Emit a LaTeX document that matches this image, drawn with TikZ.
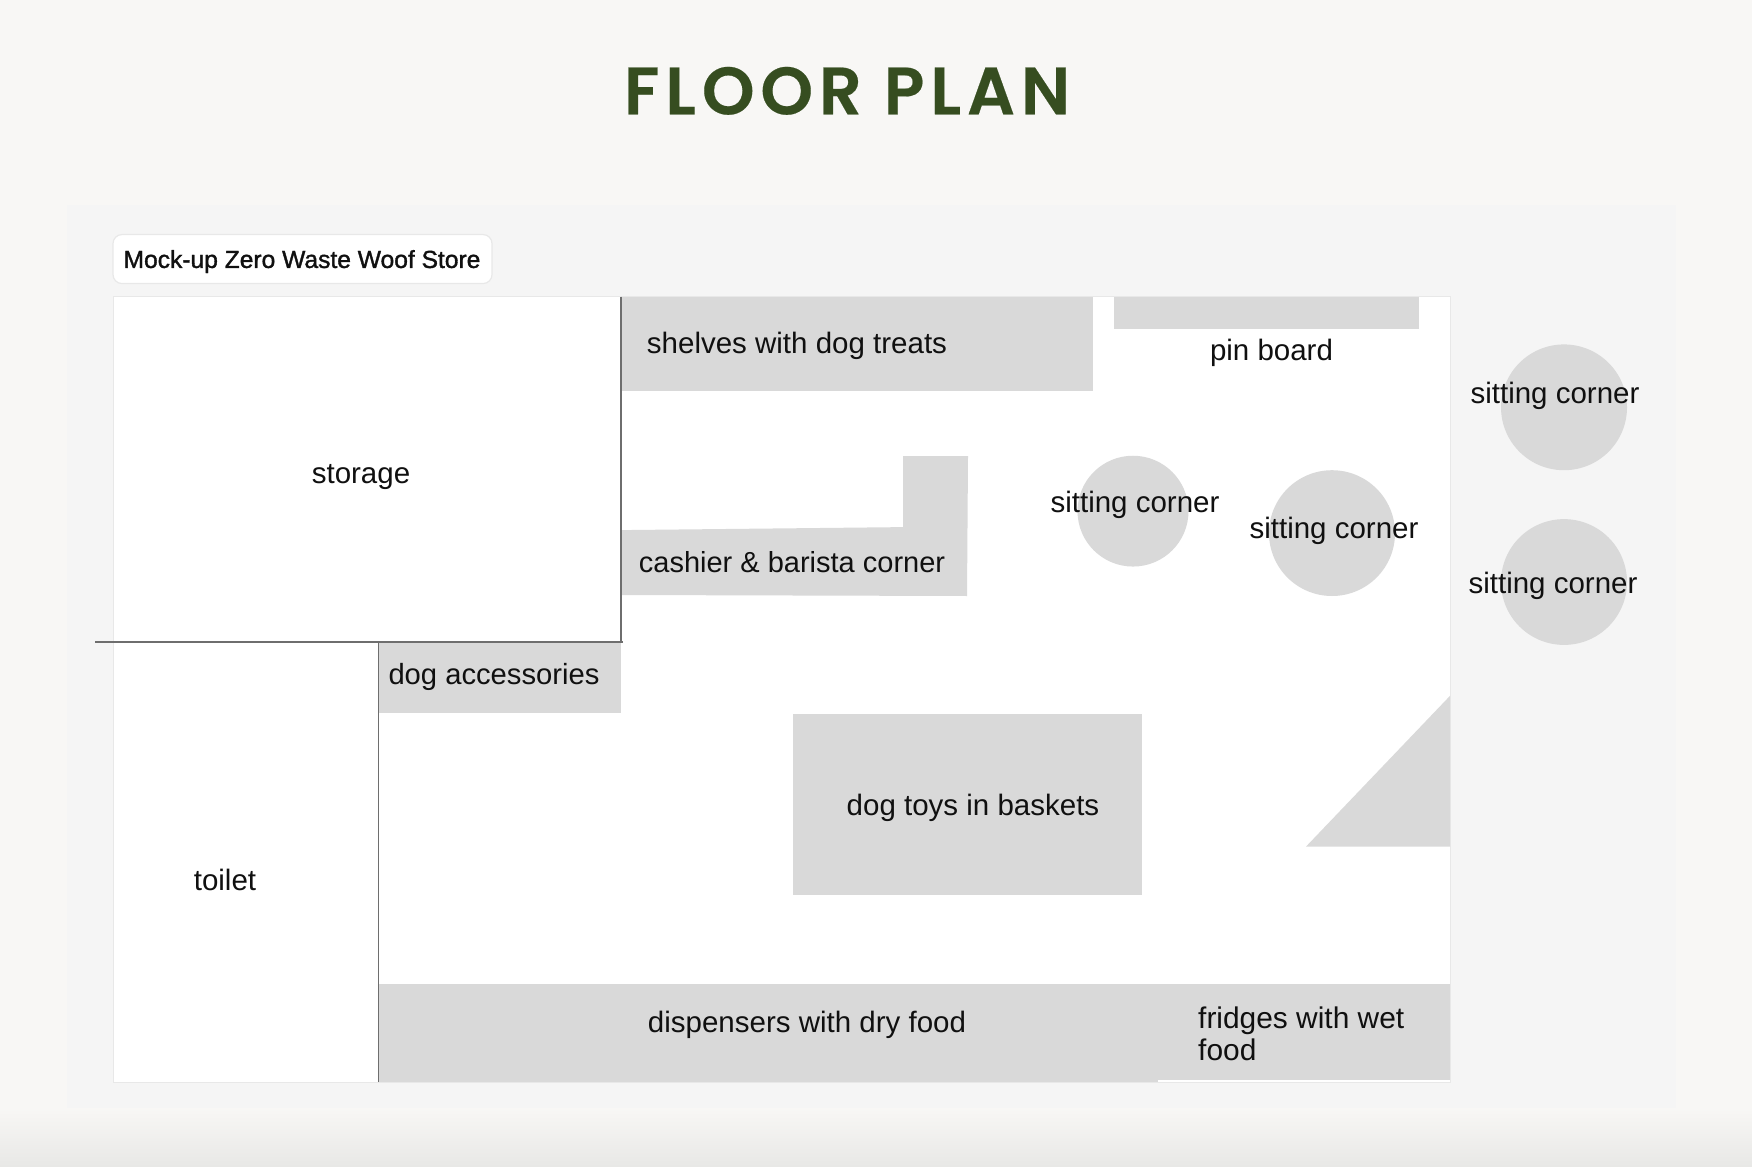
\documentclass[tikz,border=0pt]{standalone}
\usepackage{fontspec}
\setmainfont{Liberation Sans}
\newfontfamily\titlefont[LetterSpace=8.8,FakeBold=0.3]{Poppins SemiBold}
\newfontfamily\labelfont[FakeBold=1.4]{Liberation Sans}
\definecolor{pagebg}{HTML}{F8F7F5}
\definecolor{panelbg}{HTML}{F5F5F5}
\definecolor{shadebot}{HTML}{E8E8E6}
\definecolor{zone}{HTML}{D9D9D9}
\definecolor{wall}{HTML}{6E6E6E}
\definecolor{edgeline}{HTML}{E8E8E8}
\definecolor{titlegreen}{HTML}{364D20}
\definecolor{ink}{HTML}{101010}
\tikzset{
  zonefill/.style={fill=zone,draw=none},
  wallline/.style={draw=wall,line width=1.6pt},
  roomtext/.style={font=\fontsize{29.5}{32}\selectfont,text=ink,inner sep=0pt,align=left},
}
\begin{document}
\begin{tikzpicture}[x=1pt,y=-0.9983pt]
\useasboundingbox (0,0) rectangle (1752,1168);
\fill[pagebg] (0,0) rectangle (1752,1168);
\fill[panelbg] (67,205) rectangle (1676,1110);
\shade[top color=pagebg,bottom color=shadebot] (0,1110) rectangle (1752,1168);
\fill[white,draw=edgeline,line width=1pt] (113,297) rectangle (1450,1084);
\node[draw=edgeline,line width=1.2pt,fill=white,rounded corners=9pt,minimum width=379pt,minimum height=49pt,inner sep=0pt] (lab) at (302.5,259.5) {};
\node[font=\labelfont\fontsize{24.6}{28}\selectfont,text=ink,inner sep=0pt] (labtext) at (302,262) {Mock-up Zero Waste Woof Store};
\node[font=\titlefont\fontsize{67}{70}\selectfont,text=titlegreen,inner sep=0pt] (title) at (847,91) {FLOOR PLAN};
% zones
\fill[zonefill] (621,297) rectangle (1093,392);
\fill[zonefill] (1114,297) rectangle (1419,330);
\fill[zonefill] (621,531) -- (903,528) -- (903,457) -- (968,457) -- (967,597) -- (621,596) -- cycle;
\fill[zonefill] (378,643) rectangle (621,714);
\fill[zonefill] (793,715) rectangle (1142,896);
\fill[zonefill] (1450,697) -- (1450,848) -- (1306,848) -- cycle;
\fill[zonefill] (378,985.5) rectangle (1158,1084);
\fill[zonefill] (1158,985.5) rectangle (1450,1082);
\fill[zonefill] (1133,512) circle[radius=55.5];
\fill[zonefill] (1332,534) circle[radius=63];
\fill[zonefill] (1564,408) circle[radius=63];
\fill[zonefill] (1564,583) circle[radius=63];
% walls
\coordinate (wa) at (621,297); \coordinate (wb) at (621,643);
\coordinate (wc) at (95,643); \coordinate (wd) at (623,643);
\coordinate (we) at (378.5,643); \coordinate (wf) at (378.5,1084);
\draw[wallline] (wa) -- (wb);
\draw[wallline] (wc) -- (wd);
\draw[wallline] (we) -- (wf);
% labels
\node[roomtext] (storage) at (361,478) {storage};
\node[roomtext] (toilet) at (225,881) {toilet};
\node[roomtext] (shelves) at (797,346) {shelves with dog treats};
\node[roomtext] (pin) at (1271.5,353) {pin board};
\node[roomtext,font=\fontsize{29}{32}\selectfont] (cashier) at (792,563) {cashier \& barista corner};
\node[roomtext,font=\fontsize{29.2}{32}\selectfont] (access) at (494,678) {dog accessories};
\node[roomtext] (toys) at (973,809) {dog toys in baskets};
\node[roomtext] (disp) at (807,1027) {dispensers with dry food};
\node[roomtext] (sita) at (1135,506) {sitting corner};
\node[roomtext] (sitb) at (1334,532) {sitting corner};
\node[roomtext] (sitc) at (1555,397) {sitting corner};
\node[roomtext] (sitd) at (1553,587) {sitting corner};
\node[roomtext,anchor=west,font=\fontsize{29.9}{32}\selectfont] (fridge) at (1198,1036) {fridges with wet\\food};
\end{tikzpicture}
\end{document}
